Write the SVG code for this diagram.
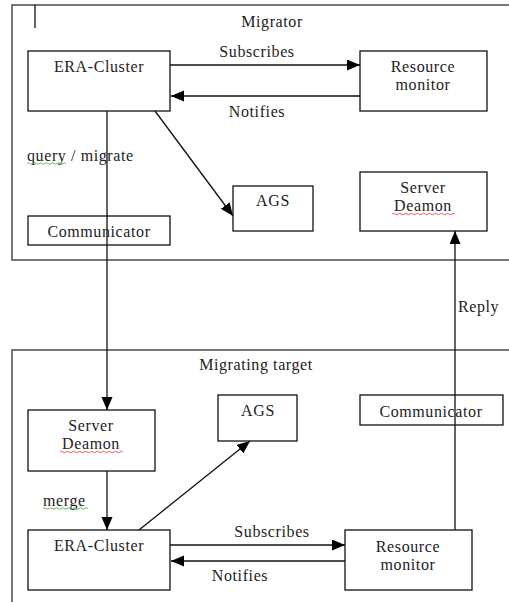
<svg xmlns="http://www.w3.org/2000/svg" width="509" height="602" viewBox="0 0 509 602">
<style>
.frame{fill:none;stroke:#555;stroke-width:1.6}
.box{fill:none;stroke:#111;stroke-width:1.3}
.t{font-family:"Liberation Serif","DejaVu Serif","Times New Roman",serif;font-size:16px;fill:#222;letter-spacing:0.6px}
.m{text-anchor:middle}
.c{stroke:#111;stroke-width:1.3;fill:none}
.sq{fill:none;stroke-width:0.8}
</style>
<defs>
<marker id="ah" markerUnits="userSpaceOnUse" markerWidth="14" markerHeight="12" refX="13" refY="5.5" orient="auto">
<path d="M0,0 L13,5.5 L0,11 z" fill="#000"/>
</marker>
</defs>
<g id="migrator">
<rect class="frame" x="12" y="5" width="520" height="255"/>
<line x1="35" y1="5" x2="35" y2="28" stroke="#111" stroke-width="1.3"/>
<text class="t m" x="272" y="27">Migrator</text>
</g>
<g id="target">
<rect class="frame" x="12" y="350" width="520" height="270"/>
<text class="t m" x="256" y="370">Migrating target</text>
</g>
<g id="connectors">
<line class="c" x1="170" y1="65" x2="360" y2="65" marker-end="url(#ah)"/>
<line class="c" x1="360" y1="96" x2="171" y2="96" marker-end="url(#ah)"/>
<line class="c" x1="107" y1="111" x2="107" y2="410" marker-end="url(#ah)"/>
<line class="c" x1="155" y1="111" x2="233" y2="216" marker-end="url(#ah)"/>
<line class="c" x1="455" y1="530" x2="455" y2="231" marker-end="url(#ah)"/>
<line class="c" x1="107" y1="471" x2="107" y2="530" marker-end="url(#ah)"/>
<line class="c" x1="139" y1="530" x2="250" y2="441" marker-end="url(#ah)"/>
<line class="c" x1="170" y1="545" x2="345" y2="545" marker-end="url(#ah)"/>
<line class="c" x1="345" y1="561" x2="171" y2="561" marker-end="url(#ah)"/>
<text class="t m" x="257" y="57">Subscribes</text>
<text class="t m" x="257" y="117">Notifies</text>
<text class="t" x="27" y="161">query / migrate</text>
<path class="sq" stroke="#3a3" d="M27,163.5 q1.5,-1.5 3,0 t3,0 t3,0 t3,0 t3,0 t3,0 t3,0 t3,0 t3,0 t3,0 t3,0 t3,0 t3,0"/>
<text class="t" x="458" y="312">Reply</text>
<text class="t" x="43" y="506">merge</text>
<path class="sq" stroke="#3a3" d="M43,508.5 q1.5,-1.5 3,0 t3,0 t3,0 t3,0 t3,0 t3,0 t3,0 t3,0 t3,0 t3,0 t3,0 t3,0 t3,0 t3,0 t3,0"/>
<text class="t m" x="272" y="537">Subscribes</text>
<text class="t m" x="240" y="581">Notifies</text>
</g>
<g id="era1">
<rect class="box" x="28" y="51" width="142" height="60"/>
<text class="t m" x="99" y="72">ERA-Cluster</text>
</g>
<g id="rm1">
<rect class="box" x="360" y="51" width="127" height="60"/>
<text class="t m" x="423" y="72">Resource</text>
<text class="t m" x="423" y="90">monitor</text>
</g>
<g id="ags1">
<rect class="box" x="233" y="186" width="80" height="45"/>
<text class="t m" x="273" y="206">AGS</text>
</g>
<g id="sd1">
<rect class="box" x="360" y="172" width="127" height="59"/>
<text class="t m" x="423" y="193">Server</text>
<text class="t m" x="423" y="211">Deamon</text>
<path class="sq" stroke="#d33" d="M392,214 q1.5,-1.5 3,0 t3,0 t3,0 t3,0 t3,0 t3,0 t3,0 t3,0 t3,0 t3,0 t3,0 t3,0 t3,0 t3,0 t3,0 t3,0 t3,0 t3,0 t3,0 t3,0 t3,0"/>
</g>
<g id="comm1">
<rect class="box" x="28" y="216" width="142" height="29"/>
<text class="t m" x="99" y="237">Communicator</text>
</g>
<g id="sd2">
<rect class="box" x="28" y="410" width="127" height="61"/>
<text class="t m" x="91" y="431">Server</text>
<text class="t m" x="91" y="449">Deamon</text>
<path class="sq" stroke="#d33" d="M60,452 q1.5,-1.5 3,0 t3,0 t3,0 t3,0 t3,0 t3,0 t3,0 t3,0 t3,0 t3,0 t3,0 t3,0 t3,0 t3,0 t3,0 t3,0 t3,0 t3,0 t3,0 t3,0 t3,0"/>
</g>
<g id="ags2">
<rect class="box" x="218" y="395" width="79" height="46"/>
<text class="t m" x="258" y="416">AGS</text>
</g>
<g id="comm2">
<rect class="box" x="360" y="395" width="143" height="30"/>
<text class="t m" x="431" y="417">Communicator</text>
</g>
<g id="era2">
<rect class="box" x="28" y="530" width="142" height="60"/>
<text class="t m" x="99" y="551">ERA-Cluster</text>
</g>
<g id="rm2">
<rect class="box" x="345" y="530" width="127" height="60"/>
<text class="t m" x="408" y="552">Resource</text>
<text class="t m" x="408" y="570">monitor</text>
</g>
</svg>
